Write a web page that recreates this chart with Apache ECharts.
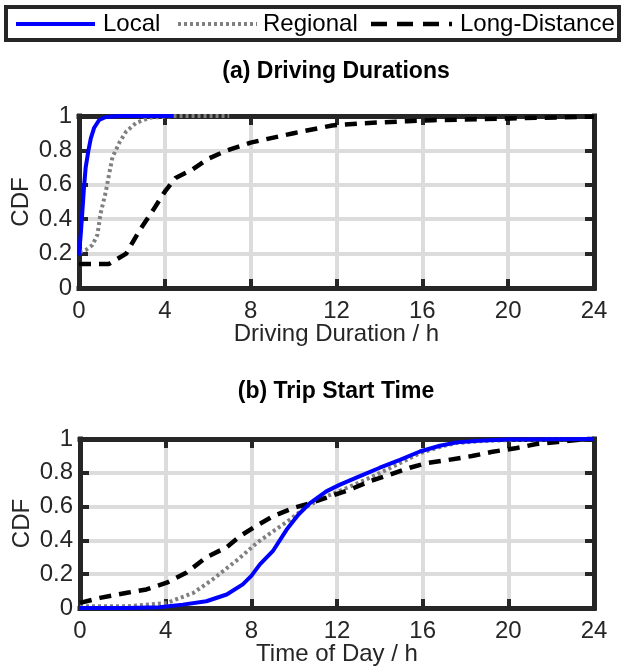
<!DOCTYPE html>
<html>
<head>
<meta charset="utf-8">
<script src="https://cdn.jsdelivr.net/npm/echarts@6/dist/echarts.min.js"></script>
<style>
html,body{margin:0;padding:0;background:#fff;}
#chart{width:623px;height:670px;}
</style>
</head>
<body>
<div id="chart"></div>
<script>
// ---- Data ----
const seriesNames = ['Local', 'Regional', 'Long-Distance'];
const xTicks = [0, 4, 8, 12, 16, 20, 24];
const yTicks = [0, 0.2, 0.4, 0.6, 0.8, 1];
const panelTitles = ['(a) Driving Durations', '(b) Trip Start Time'];
const xAxisNames = ['Driving Duration / h', 'Time of Day / h'];

// (a) driving durations CDF
const durLocalX = [0, 0.02, 0.08, 0.16, 0.23, 0.31, 0.44, 0.55, 0.7, 0.94, 1.25, 1.9, 4.4];
const durLocalY = [0.19, 0.22, 0.31, 0.45, 0.58, 0.70, 0.80, 0.87, 0.93, 0.977, 0.994, 1.0, 1.0];
const durRegX = [0.03, 0.31, 0.63, 0.86, 1.0, 1.25, 1.4, 1.56, 1.9, 2.2, 2.66, 3.3, 4.5, 7.0];
const durRegY = [0.21, 0.22, 0.25, 0.31, 0.43, 0.56, 0.66, 0.76, 0.85, 0.91, 0.96, 0.99, 1.0, 1.0];
const durLongX = [0, 1.4, 2.2, 2.8, 3.44, 4.0, 4.5, 5.3, 6.0, 6.9, 8.0, 8.9, 10, 11.8, 13.1, 15.3, 16.5, 18.8, 20.1, 22.3, 24];
const durLongY = [0.14, 0.14, 0.2, 0.33, 0.45, 0.56, 0.64, 0.69, 0.75, 0.80, 0.845, 0.87, 0.9, 0.945, 0.957, 0.97, 0.976, 0.982, 0.986, 0.992, 0.996];

// (b) trip start time CDF
const startLocalX = [0, 2.2, 3.7, 4.8, 5.9, 6.85, 7.6, 8.0, 8.4, 9.0, 9.65, 10.2, 10.74, 11.5, 12.14, 13.07, 14.0, 14.94, 15.87, 16.8, 17.6, 18.6, 19.9, 24];
const startLocalY = [0, 0, 0.004, 0.02, 0.04, 0.08, 0.14, 0.19, 0.258, 0.336, 0.464, 0.553, 0.621, 0.69, 0.73, 0.78, 0.83, 0.877, 0.926, 0.96, 0.98, 0.99, 0.997, 1.0];
const startRegX = [0, 2.2, 4.05, 5.3, 6.2, 7.47, 8.25, 9.02, 9.8, 10.58, 11.5, 12.45, 13.7, 14.8, 15.87, 17.0, 17.6, 18.8, 19.9, 24];
const startRegY = [0.01, 0.01, 0.03, 0.09, 0.17, 0.297, 0.385, 0.454, 0.523, 0.60, 0.66, 0.71, 0.78, 0.848, 0.916, 0.96, 0.976, 0.988, 0.993, 1.0];
const startLongX = [0, 0.93, 2.2, 3.1, 4.05, 4.98, 5.9, 6.85, 7.47, 8.25, 9.02, 9.96, 10.74, 11.67, 12.6, 13.54, 14.5, 15.4, 16.2, 17.2, 18.3, 19.2, 20.4, 21.3, 22.3, 23.6, 24];
const startLongY = [0.03, 0.06, 0.09, 0.11, 0.15, 0.21, 0.30, 0.36, 0.425, 0.488, 0.543, 0.592, 0.62, 0.66, 0.70, 0.75, 0.79, 0.83, 0.858, 0.876, 0.899, 0.923, 0.947, 0.97, 0.982, 1.0, 1.0];

// ---- Chart ----
const FONT = '"Liberation Sans", Arial, Helvetica, sans-serif';
const DARK = '#262626';
const zip = (xs, ys) => xs.map((x, i) => [x, ys[i]]);

const styles = [
  { color: '#0000ff', type: 'solid', width: 4 },
  { color: '#808080', type: [3, 3], width: 4 },
  { color: '#000000', type: [12, 8], width: 4.5 }
];

const grids = [
  { left: 79, top: 116, width: 515, height: 172 },
  { left: 80, top: 439, width: 514, height: 169 }
];

const axisLineStyle = { show: true, onZero: false, lineStyle: { color: DARK, width: 5, cap: 'square' } };
const tickStyle = { show: true, inside: true, length: 9, lineStyle: { color: DARK, width: 4 } };
const gridLine = { show: true, showMinLine: false, showMaxLine: false, lineStyle: { color: '#dcdcdc', width: 4 } };

const xAxes = [], yAxes = [];
grids.forEach((g, i) => {
  // bottom x axis with labels, ticks, line (z above the grid lines)
  xAxes.push({
    type: 'value', gridIndex: i, min: xTicks[0], max: xTicks[xTicks.length - 1], interval: 4, z: 4,
    name: xAxisNames[i], nameLocation: 'middle', nameGap: 34, nameMoveOverlap: false,
    nameTextStyle: { fontFamily: FONT, fontSize: 24, color: DARK },
    axisLine: axisLineStyle, axisTick: tickStyle,
    axisLabel: { fontFamily: FONT, fontSize: 24, color: DARK, margin: 11, formatter: v => String(v) },
    splitLine: { show: false }
  });
  // top x axis: box edge + ticks
  xAxes.push({
    type: 'value', gridIndex: i, position: 'top', min: xTicks[0], max: xTicks[xTicks.length - 1], interval: 4, z: 4,
    axisLine: axisLineStyle, axisTick: tickStyle,
    axisLabel: { show: false }, splitLine: { show: false }
  });
  // hidden x axis carrying the vertical grid lines (drawn underneath)
  xAxes.push({
    type: 'value', gridIndex: i, min: xTicks[0], max: xTicks[xTicks.length - 1], interval: 4, z: 0,
    axisLine: { show: false }, axisTick: { show: false }, axisLabel: { show: false },
    splitLine: gridLine
  });
  yAxes.push({
    type: 'value', gridIndex: i, min: yTicks[0], max: yTicks[yTicks.length - 1], interval: 0.2, z: 4,
    name: 'CDF', nameLocation: 'middle', nameGap: 46, nameMoveOverlap: false,
    nameTextStyle: { fontFamily: FONT, fontSize: 24, color: DARK },
    axisLine: axisLineStyle, axisTick: tickStyle,
    axisLabel: { fontFamily: FONT, fontSize: 24, color: DARK, margin: 7,
      formatter: v => String(Math.round(v * 10) / 10) },
    splitLine: { show: false }
  });
  yAxes.push({
    type: 'value', gridIndex: i, position: 'right', min: yTicks[0], max: yTicks[yTicks.length - 1], interval: 0.2, z: 4,
    axisLine: axisLineStyle, axisTick: tickStyle,
    axisLabel: { show: false }, splitLine: { show: false }
  });
  yAxes.push({
    type: 'value', gridIndex: i, min: yTicks[0], max: yTicks[yTicks.length - 1], interval: 0.2, z: 0,
    axisLine: { show: false }, axisTick: { show: false }, axisLabel: { show: false },
    splitLine: gridLine
  });
});

const panelData = [
  [zip(durLocalX, durLocalY), zip(durRegX, durRegY), zip(durLongX, durLongY)],
  [zip(startLocalX, startLocalY), zip(startRegX, startRegY), zip(startLongX, startLongY)]
];

const series = [];
panelData.forEach((sets, p) => {
  sets.forEach((d, k) => {
    series.push({
      name: seriesNames[k], type: 'line', xAxisIndex: p * 3, yAxisIndex: p * 3,
      data: d, symbol: 'none', showSymbol: false, smooth: false, clip: false,
      lineStyle: styles[k], itemStyle: { color: styles[k].color },
      z: 5 + (k === 0 ? 1 : 0), animation: false
    });
  });
});

// legend drawn as graphic elements (box, sample lines, labels)
const legendY = 24;
const legendItems = [
  { x1: 16, x2: 95, tx: 103 },
  { x1: 178, x2: 257, tx: 263 },
  { x1: 371, x2: 452, tx: 460 }
];
const legendGraphics = [{
  type: 'rect', shape: { x: 6, y: 7, width: 613, height: 33 },
  style: { fill: '#fff', stroke: DARK, lineWidth: 4 }, z: 10
}];
legendItems.forEach((it, k) => {
  const st = styles[k];
  legendGraphics.push({
    type: 'line', shape: { x1: it.x1, y1: legendY, x2: it.x2, y2: legendY },
    style: { stroke: st.color, lineWidth: st.width,
      lineDash: k === 0 ? null : (k === 1 ? [3, 3] : [16, 10]) }, z: 11
  });
  legendGraphics.push({
    type: 'text', x: it.tx, y: legendY,
    style: { text: seriesNames[k], fontFamily: FONT, fontSize: 24, fill: '#000',
      textAlign: 'left', textVerticalAlign: 'middle' }, z: 11
  });
});

const titleGraphics = panelTitles.map((t, i) => ({
  type: 'text', x: 336, y: i === 0 ? 72 : 392,
  style: { text: t, fontFamily: FONT, fontWeight: 'bold', fontSize: 23, fill: '#000',
    textAlign: 'center', textVerticalAlign: 'middle' }
}));

const chart = echarts.init(document.getElementById('chart'), null, { renderer: 'canvas' });
chart.setOption({
  animation: false,
  backgroundColor: '#ffffff',
  grid: grids.map(g => Object.assign({ show: false }, g)),
  xAxis: xAxes,
  yAxis: yAxes,
  graphic: legendGraphics.concat(titleGraphics),
  series: series
});
</script>
</body>
</html>
